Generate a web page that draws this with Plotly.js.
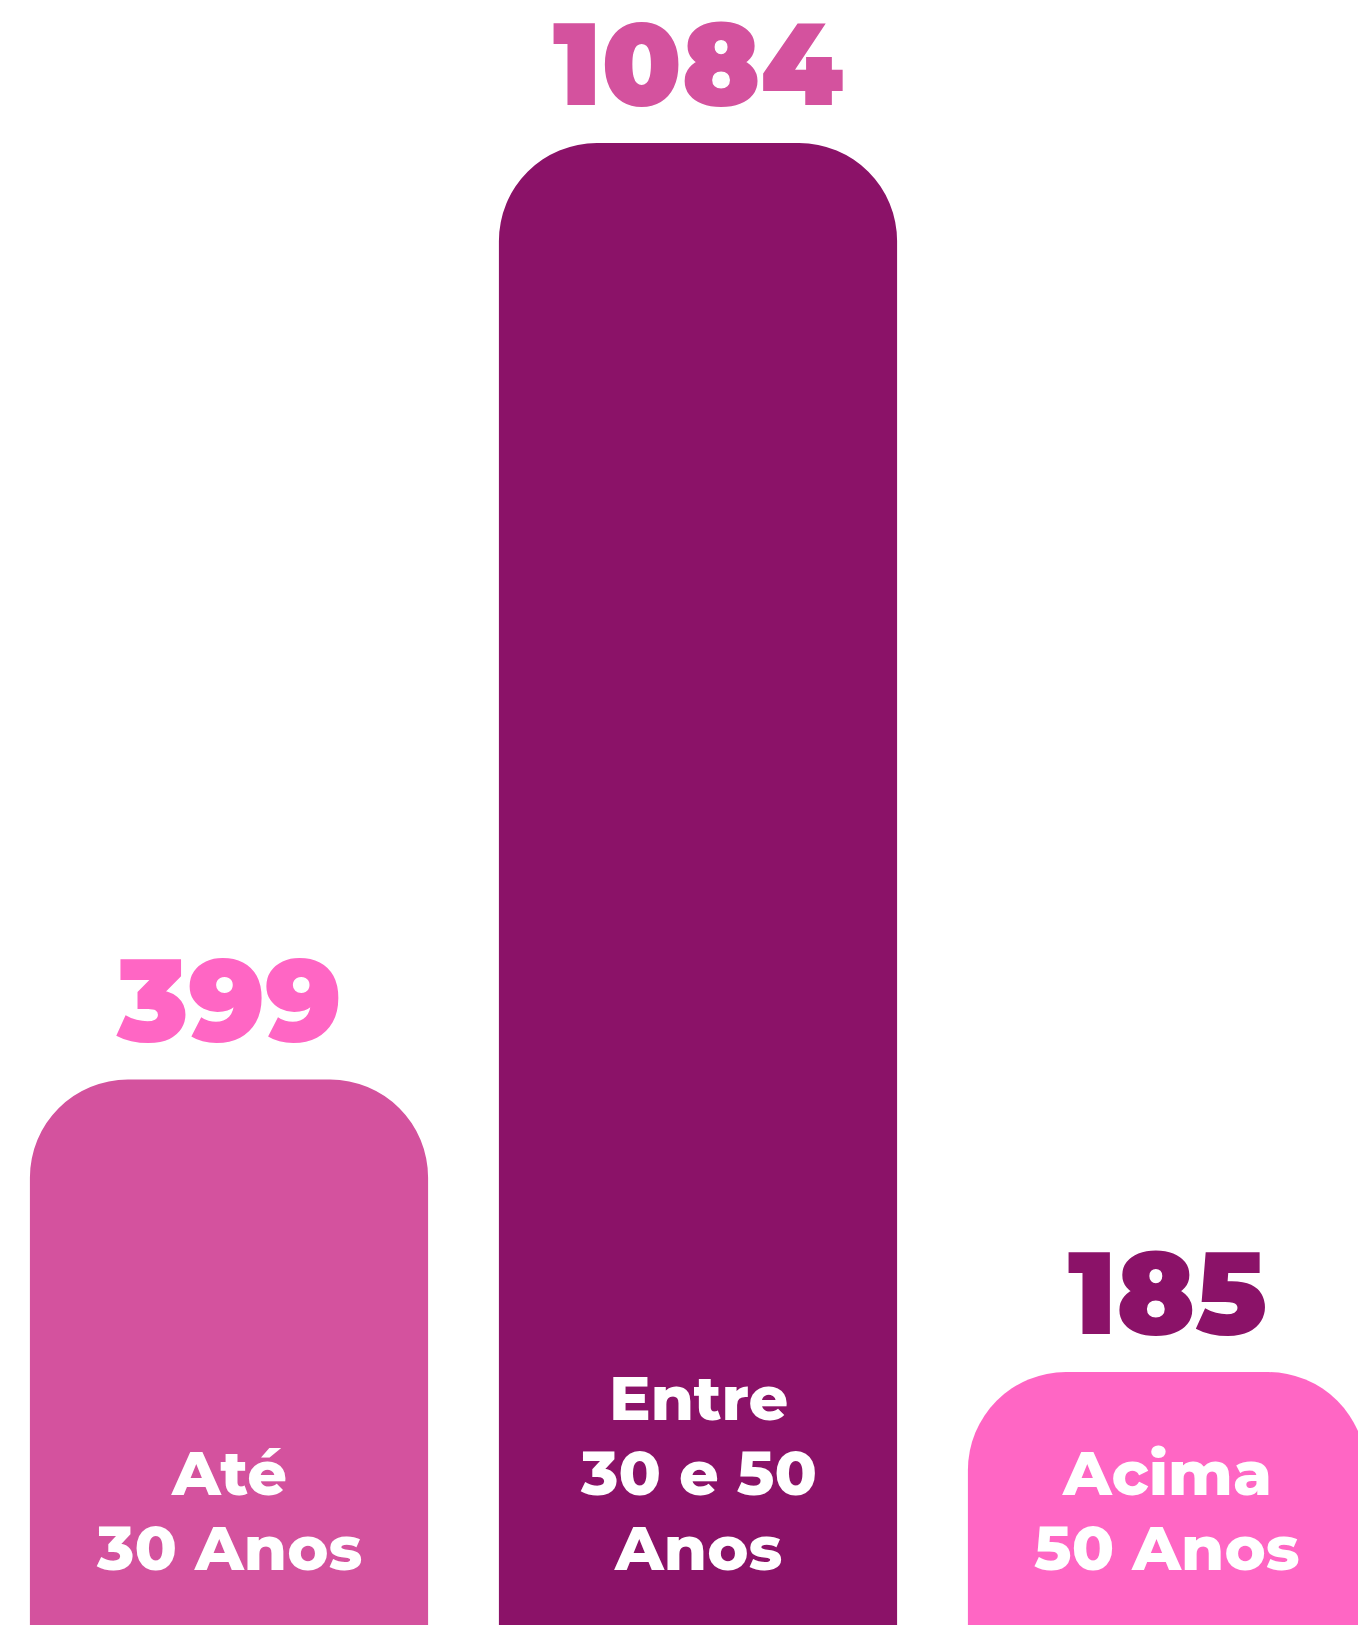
<!DOCTYPE html>
<html>
<head>
<meta charset="utf-8">
<script src="https://cdn.plot.ly/plotly-3.0.1.min.js"></script>
<style>html,body{margin:0;padding:0;background:#fff;}#chart{width:1358px;height:1625px;}</style>
</head>
<body>
<div id="chart"></div>
<script>
// Data
const categories = ["Até 30 Anos", "Entre 30 e 50 Anos", "Acima 50 Anos"];
const categoryLines = [["Até", "30 Anos"], ["Entre", "30 e 50", "Anos"], ["Acima", "50 Anos"]];
const values = [399, 1084, 185];
const barColors = ["#D4529E", "#8B1268", "#FF66C4"];
const valueColors = ["#FF66C4", "#D4529E", "#8B1268"];

const xPos = categories.map((c, i) => i);
const yMax = Math.max(...values) * 1625 / (1625 - 143);

const trace = {
  type: "bar",
  x: xPos,
  y: values,
  text: categories,
  textposition: "none",
  width: 0.849,
  marker: { color: barColors, cornerradius: 98, line: { width: 0 } },
  hoverinfo: "skip",
  showlegend: false
};

const annotations = [];
values.forEach((v, i) => {
  annotations.push({
    x: i, y: v, xref: "x", yref: "y",
    text: String(v), showarrow: false,
    xanchor: "center", yanchor: "middle", yshift: 80,
    font: { family: "Montserrat, Inter, sans-serif", size: 116, weight: 900, color: valueColors[i] }
  });
  const lines = categoryLines[i];
  lines.forEach((ln, j) => {
    annotations.push({
      x: i, y: 0, xref: "x", yref: "y",
      text: ln, showarrow: false,
      xanchor: "center", yanchor: "bottom", yshift: 37 + (lines.length - 1 - j) * 75,
      font: { family: "Montserrat, Inter, sans-serif", size: 62, weight: 800, color: "#FFFFFF" }
    });
  });
});

const layout = {
  width: 1358, height: 1625,
  margin: { l: 0, r: 0, t: 0, b: 0, pad: 0 },
  paper_bgcolor: "#FFFFFF", plot_bgcolor: "#FFFFFF",
  xaxis: { range: [-229 / 469, (1358 - 229) / 469], visible: false, fixedrange: true },
  yaxis: { range: [0, yMax], visible: false, fixedrange: true },
  annotations: annotations,
  showlegend: false
};

Plotly.newPlot("chart", [trace], layout, { displayModeBar: false, staticPlot: true });
</script>
</body>
</html>
